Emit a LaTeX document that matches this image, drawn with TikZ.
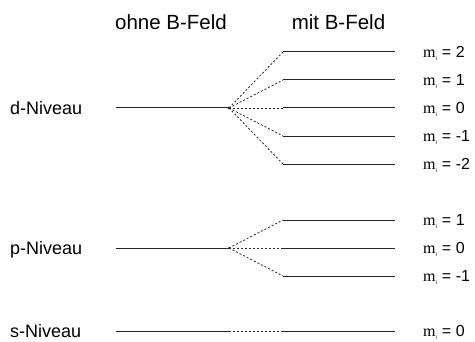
\documentclass[tikz,border=0pt]{standalone}
\usepackage{fontspec}
\setmainfont{Liberation Sans}
\newfontfamily\serifm{Liberation Serif}
\begin{document}
\begin{tikzpicture}[x=1pt,y=1pt,
  level/.style={line width=1pt, black!85},
  split/.style={line width=0.8pt, black!85, dash pattern=on 2pt off 2pt},
  head/.style={font=\fontsize{20.5}{24}\selectfont, inner sep=0pt, anchor=base},
  lbl/.style={font=\fontsize{18}{21}\selectfont, inner sep=0pt, anchor=base west},
  mlbl/.style={font=\fontsize{16}{19}\selectfont, anchor=base west, inner sep=0pt}]
\useasboundingbox (0,0) rectangle (475,341);
\newcommand{\mlab}[1]{{\serifm m\textsubscript{\tiny l}} = #1}

% column headings
\node[head] (ohne) at (171,311) {ohne B-Feld};
\node[head] (mit) at (338.5,311) {mit B-Feld};

% level names
\node[lbl] (dname) at (10,226.5) {d-Niveau};
\node[lbl] (pname) at (10,86.5) {p-Niveau};
\node[lbl] (sname) at (10,3.5) {s-Niveau};

% unsplit levels
\coordinate (d0) at (116,233); \coordinate (d1) at (229,233);
\coordinate (p0) at (116,93);  \coordinate (p1) at (229,93);
\coordinate (s0) at (116,10);  \coordinate (s1) at (229,10);
\draw[level] (d0) -- (d1);
\draw[level] (p0) -- (p1);
\draw[level] (s0) -- (s1);
\fill[black!85] (d1) circle (1.4pt);
\fill[black!85] (p1) circle (1pt);

% split d sublevels
\foreach \m/\y in {2/289,1/261,0/233,-1/205,-2/177}{
  \coordinate (dl\m) at (283,\y);
  \coordinate (dr\m) at (395,\y);
  \draw[split] (d1) -- (dl\m);
  \draw[level] (dl\m) -- (dr\m);
  \node[mlbl] (dm\m) at (423,\y-5.7) {\mlab{\m}};
}

% split p sublevels
\foreach \m/\y in {1/121,0/93,-1/65}{
  \coordinate (pl\m) at (283,\y);
  \coordinate (pr\m) at (395,\y);
  \draw[split] (p1) -- (pl\m);
  \draw[level] (pl\m) -- (pr\m);
  \node[mlbl] (pm\m) at (423,\y-5.7) {\mlab{\m}};
}

% s level stays single
\coordinate (sl0) at (283,10);
\coordinate (sr0) at (395,10);
\draw[split] (s1) -- (sl0);
\draw[level] (sl0) -- (sr0);
\node[mlbl] (sm0) at (423,4.3) {\mlab{0}};
\end{tikzpicture}
\end{document}
